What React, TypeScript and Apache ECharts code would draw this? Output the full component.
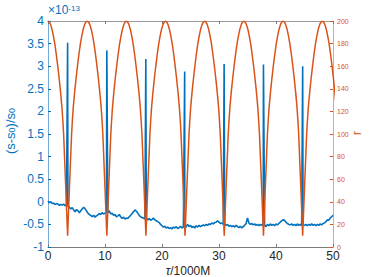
import React, { useEffect, useRef } from "react";
import * as echarts from "echarts";

// ---- data ----
const xTicks = { min: 0, max: 50, interval: 10 };
const leftTicks = { min: -1, max: 4, interval: 0.5 };
const rightTicks = { min: 0, max: 200, interval: 20 };

// periastron times (tau / 1000M) where r is minimal and (s-s0)/s0 spikes
const spikeTimes = [3.44, 10.32, 17.16, 23.98, 30.9, 37.8, 44.68];
const spikePeaks = [3.52, 3.35, 3.16, 2.88, 3.05, 3.04, 3.0];

// (s-s0)/s0 baseline (x1e-13), sampled every 0.25 in tau from 0 to 50
const baselineStep = 0.25;
const baseline = [
  0.02, -0.02, 0.0, -0.04, -0.03, -0.06, -0.04, -0.05, -0.08, -0.06, -0.07, -0.05, -0.09, -0.07,
  -0.1, -0.12, -0.16, -0.13, -0.18, -0.22, -0.17, -0.2, -0.24, -0.2, -0.16, -0.12, -0.15, -0.2,
  -0.25, -0.28, -0.3, -0.33, -0.3, -0.34, -0.31, -0.29, -0.26, -0.28, -0.24, -0.27, -0.25, -0.23,
  -0.24, -0.2, -0.27, -0.25, -0.3, -0.28, -0.33, -0.31, -0.28, -0.33, -0.37, -0.34, -0.38, -0.36,
  -0.37, -0.33, -0.3, -0.26, -0.22, -0.18, -0.21, -0.25, -0.3, -0.33, -0.35, -0.36, -0.38, -0.37,
  -0.4, -0.37, -0.41, -0.39, -0.36, -0.4, -0.42, -0.44, -0.46, -0.5, -0.53, -0.56, -0.54, -0.58,
  -0.56, -0.59, -0.57, -0.6, -0.56, -0.58, -0.55, -0.59, -0.57, -0.54, -0.58, -0.56, -0.59, -0.55,
  -0.5, -0.55, -0.52, -0.57, -0.54, -0.58, -0.53, -0.56, -0.52, -0.55, -0.53, -0.51, -0.53, -0.5,
  -0.52, -0.49, -0.5, -0.47, -0.49, -0.46, -0.45, -0.42, -0.45, -0.48, -0.47, -0.5, -0.49, -0.52,
  -0.5, -0.54, -0.52, -0.55, -0.53, -0.56, -0.52, -0.55, -0.57, -0.54, -0.58, -0.55, -0.52, -0.48,
  -0.36, -0.47, -0.5, -0.48, -0.51, -0.49, -0.52, -0.5, -0.53, -0.5, -0.52, -0.49, -0.52, -0.55,
  -0.5, -0.53, -0.49, -0.52, -0.5, -0.53, -0.49, -0.51, -0.48, -0.45, -0.42, -0.4, -0.41, -0.45,
  -0.48, -0.5, -0.51, -0.49, -0.52, -0.5, -0.53, -0.49, -0.52, -0.5, -0.53, -0.5, -0.52, -0.5,
  -0.53, -0.5, -0.52, -0.49, -0.52, -0.5, -0.53, -0.5, -0.52, -0.49, -0.51, -0.48, -0.47, -0.44,
  -0.4, -0.41, -0.36, -0.33, -0.3,
];

// r: times of minima, and the shape of r around each minimum (offset in tau -> r)
const orbitMinTimes = [3.44, 10.32, 17.18, 24.04, 30.92, 37.8, 44.68, 51.56];
const orbitProfileDt = [0, 0.35, 0.7, 0.85, 1.0, 1.25, 1.5, 1.75, 2.0, 2.25, 2.5, 2.75, 3.0, 3.2];
const orbitProfileR = [10, 56, 100, 113, 124, 138, 150, 161, 171, 180, 187, 193, 197, 199];
const apoapsisR = 200;

// ---- build series data ----
const blueData: [number, number][] = baseline.map((v, i) => [i * baselineStep, v]);
spikeTimes.forEach((t, i) => blueData.push([t, spikePeaks[i]]));
blueData.sort((a, b) => a[0] - b[0]);

const orbitData: [number, number][] = [[0, apoapsisR]];
orbitMinTimes.forEach((p, i) => {
  for (let k = orbitProfileDt.length - 1; k >= 1; k--) orbitData.push([p - orbitProfileDt[k], orbitProfileR[k]]);
  orbitData.push([p, orbitProfileR[0]]);
  for (let k = 1; k < orbitProfileDt.length; k++) orbitData.push([p + orbitProfileDt[k], orbitProfileR[k]]);
  const next = orbitMinTimes[i + 1];
  if (next !== undefined) orbitData.push([(p + next) / 2, apoapsisR]);
});

const FONT = '"Liberation Sans", Arial, Helvetica, sans-serif';
const BLUE = "#0072BD";
const ORANGE = "#D95319";

export default function App() {
  const ref = useRef<HTMLDivElement>(null);
  useEffect(() => {
    document.body.style.margin = "0";
    const chart = echarts.init(ref.current!, null, { renderer: "svg" });
    const option: any = {
      animation: false,
      grid: { left: 48, right: 36, top: 21, bottom: 30, containLabel: false },
      xAxis: [
        {
          type: "value",
          ...xTicks,
          position: "bottom",
          axisLine: { show: true, onZero: false, lineStyle: { color: "#7a7a7a", width: 1 } },
          axisTick: { show: true, inside: true, length: 3, lineStyle: { color: "#7a7a7a" } },
          axisLabel: { color: "#262626", fontSize: 12, margin: 3, fontFamily: FONT },
          splitLine: { show: false },
        },
        {
          type: "value",
          ...xTicks,
          position: "top",
          axisLine: { show: true, onZero: false, lineStyle: { color: "#9a9a9a", width: 1 } },
          axisTick: { show: true, inside: true, length: 3, lineStyle: { color: "#7a7a7a" } },
          axisLabel: { show: false },
          splitLine: { show: false },
        },
      ],
      yAxis: [
        {
          type: "value",
          ...leftTicks,
          position: "left",
          axisLine: { show: true, onZero: false, lineStyle: { color: "#72acd9", width: 1 } },
          axisTick: { show: true, inside: true, length: 3, lineStyle: { color: BLUE } },
          axisLabel: { color: BLUE, fontSize: 12, margin: 4, fontFamily: FONT },
          splitLine: { show: false },
        },
        {
          type: "value",
          ...rightTicks,
          position: "right",
          axisLine: { show: true, onZero: false, lineStyle: { color: "#eca487", width: 1 } },
          axisTick: { show: true, inside: true, length: 3, lineStyle: { color: ORANGE } },
          axisLabel: { color: ORANGE, fontSize: 7, margin: 4, fontFamily: FONT },
          splitLine: { show: false },
        },
      ],
      series: [
        {
          type: "line",
          xAxisIndex: 0,
          yAxisIndex: 0,
          data: blueData,
          symbol: "none",
          showSymbol: false,
          clip: true,
          lineStyle: { color: BLUE, width: 1.6 },
          itemStyle: { color: BLUE },
        },
        {
          type: "line",
          xAxisIndex: 0,
          yAxisIndex: 1,
          data: orbitData,
          symbol: "none",
          showSymbol: false,
          clip: true,
          lineStyle: { color: ORANGE, width: 1.5 },
          itemStyle: { color: ORANGE },
        },
      ],
      graphic: [
        {
          type: "text",
          x: 10,
          y: 131,
          rotation: Math.PI / 2,
          style: {
            x: 0,
            y: 0,
            text: "{m|(s-s}{s|0}{m|)/s}{s|0}",
            align: "center",
            verticalAlign: "middle",
            textAlign: "center",
            textVerticalAlign: "middle",
            fill: BLUE,
            rich: {
              m: { fontSize: 13, lineHeight: 13, verticalAlign: "top", fill: BLUE, fontFamily: FONT },
              s: { fontSize: 9, lineHeight: 9, verticalAlign: "bottom", padding: [7, 0, 0, 0], fill: BLUE, fontFamily: FONT },
            },
          },
        },
        {
          type: "text",
          x: 48,
          y: 4,
          style: {
            x: 0,
            y: 0,
            text: "{b|×10}{p|-13}",
            align: "left",
            verticalAlign: "top",
            textAlign: "left",
            textVerticalAlign: "top",
            fill: BLUE,
            rich: {
              b: { fontSize: 12, lineHeight: 12, verticalAlign: "bottom", fill: BLUE, fontFamily: FONT },
              p: { fontSize: 8, lineHeight: 8, verticalAlign: "top", padding: [0, 0, 6, 0], fill: BLUE, fontFamily: FONT },
            },
          },
        },
        {
          type: "text",
          x: 188,
          y: 271,
          style: {
            x: 0,
            y: 0,
            text: "{i|τ}{n|/1000M}",
            align: "center",
            verticalAlign: "middle",
            textAlign: "center",
            textVerticalAlign: "middle",
            fill: "#262626",
            rich: {
              i: { fontSize: 12, lineHeight: 12, fontStyle: "italic", fill: "#262626", fontFamily: FONT },
              n: { fontSize: 12, lineHeight: 12, fill: "#262626", fontFamily: FONT },
            },
          },
        },
        {
          type: "text",
          x: 356,
          y: 133,
          rotation: Math.PI / 2,
          style: {
            x: 0,
            y: 0,
            text: "r",
            align: "center",
            verticalAlign: "middle",
            textAlign: "center",
            textVerticalAlign: "middle",
            fill: ORANGE,
            fontSize: 13,
            fontFamily: FONT,
          },
        },
      ],
    };
    chart.setOption(option);
    return () => chart.dispose();
  }, []);
  return <div ref={ref} style={{ width: 369, height: 277 }} />;
}
